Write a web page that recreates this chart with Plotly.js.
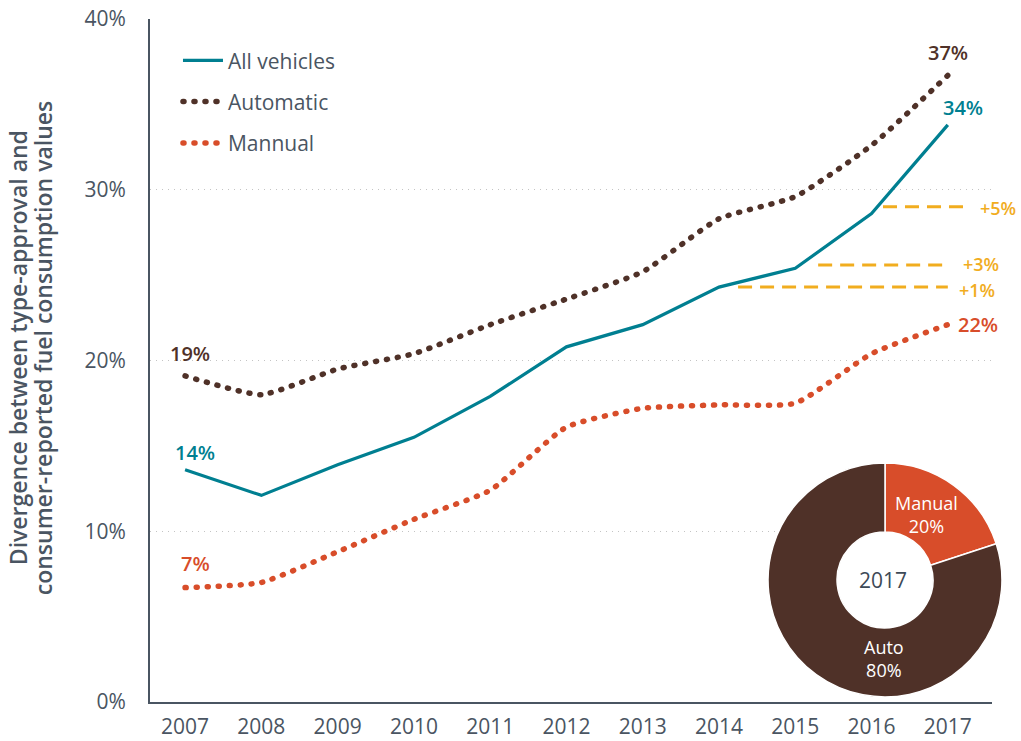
<!DOCTYPE html>
<html>
<head>
<meta charset="utf-8">
<script src="https://cdn.plot.ly/plotly-3.0.1.min.js"></script>
<style>
  html,body{margin:0;padding:0;background:#fff;}
  #chart{width:1021px;height:741px;}
</style>
</head>
<body>
<div id="chart"></div>
<script>
// data
const years = [2007,2008,2009,2010,2011,2012,2013,2014,2015,2016,2017];
const allVehicles = [13.6,12.1,13.9,15.5,17.9,20.8,22.1,24.3,25.4,28.6,33.8];
const automatic   = [19.1,18.0,19.5,20.4,22.1,23.6,25.2,28.3,29.6,32.6,36.7];
const manual      = [6.7,7.0,8.8,10.7,12.4,16.1,17.2,17.4,17.5,20.4,22.1];

// dashed gap markers
const gapStart  = [2014.25,2015.3,2016.15];
const gapEnd    = [2017.0,2017.0,2017.3];
const gapLevel  = [24.3,25.6,29.0];
const gapLabels = ['+1%','+3%','+5%'];

// 2017 share donut
const shareLabels = ['Manual','Auto'];
const shareValues = [20,80];

const yTitleLines = ['Divergence between type-approval and','consumer-reported fuel consumption values'];

const TEAL='#007f91', BROWN='#4f3128', ORANGE='#d84d2a', GOLD='#f1ad1f', TXT='#4a5562';
const FONT='"Open Sans", Lato, sans-serif';

const traces=[
  {x:years,y:allVehicles,name:'All vehicles',mode:'lines',legendgroup:'a',
   line:{color:TEAL,width:3.2},hoverinfo:'skip'},
  {x:years,y:automatic,name:'Automatic',mode:'lines',legendgroup:'b',
   line:{color:BROWN,width:5.5,dash:'1px,10px',shape:'spline',smoothing:0.5},hoverinfo:'skip'},
  {x:years,y:manual,name:'Mannual',mode:'lines',legendgroup:'c',
   line:{color:ORANGE,width:5.5,dash:'1px,10px',shape:'spline',smoothing:0.5},hoverinfo:'skip'}
];

gapLevel.forEach((lv,i)=>{
  traces.push({x:[gapStart[i],gapEnd[i]],y:[lv,lv],mode:'lines',showlegend:false,
    line:{color:GOLD,width:3,dash:'14px,8px'},hoverinfo:'skip'});
});

traces.push({type:'pie',labels:shareLabels,values:shareValues,hole:0.41,sort:false,
  direction:'clockwise',rotation:0,showlegend:false,textinfo:'none',
  marker:{colors:[ORANGE,BROWN],line:{color:'#fff',width:1.5}},
  domain:{x:[0.7178,0.9895],y:[0.0073,0.35]},hoverinfo:'skip'});

const last=years.length-1;
const pct=v=>Math.round(v)+'%';
const endLabel=(x,y,color,ax,ay)=>({x,y,xref:'x',yref:'y',text:pct(y),showarrow:true,
  arrowcolor:'rgba(0,0,0,0)',ax,ay,xanchor:'center',yanchor:'middle',
  font:{family:FONT,size:20,weight:600,color}});

const annotations=[
  endLabel(years[0],automatic[0],BROWN,5,-22),
  endLabel(years[0],allVehicles[0],TEAL,10,-17),
  endLabel(years[0],manual[0],ORANGE,10,-24),
  endLabel(years[last],automatic[last],BROWN,0,-23),
  endLabel(years[last],allVehicles[last],TEAL,15,-17),
  endLabel(years[last],manual[last],ORANGE,30,0)
];
const gapShift=[9,13,7], gapLift=[-3,1,-1];
gapLevel.forEach((lv,i)=>{
  annotations.push({x:gapEnd[i],y:lv,xref:'x',yref:'y',text:gapLabels[i],showarrow:false,
    xanchor:'left',yanchor:'middle',xshift:gapShift[i],yshift:gapLift[i],
    font:{family:FONT,size:18,weight:600,color:GOLD}});
});
// donut texts
const pieFont={family:FONT,size:18,weight:500,color:'#fff'};
annotations.push(
  {x:0.8513,y:0.1786,xref:'paper',yref:'paper',text:'2017',showarrow:false,
   xanchor:'center',yanchor:'middle',font:{family:FONT,size:21,color:'#3d4a57'}},
  {x:0.9024,y:0.2745,xref:'paper',yref:'paper',text:shareLabels[0]+'<br>'+shareValues[0]+'%',
   showarrow:false,xanchor:'center',yanchor:'middle',font:pieFont},
  {x:0.8525,y:0.063,xref:'paper',yref:'paper',text:shareLabels[1]+'<br>'+shareValues[1]+'%',
   showarrow:false,xanchor:'center',yanchor:'middle',font:pieFont}
);
// y-axis title as two tight lines
yTitleLines.forEach((t,i)=>{
  annotations.push({x:0,y:0.518,xref:'paper',yref:'paper',text:t,textangle:-90,showarrow:false,
    xanchor:'center',yanchor:'middle',xshift:i===0?-132:-107,
    font:{family:FONT,size:23,weight:600,color:TXT}});
});

const layout={
  width:1021,height:741,
  margin:{l:150,r:10,t:19,b:39},
  paper_bgcolor:'#fff',plot_bgcolor:'#fff',
  font:{family:FONT,color:TXT},
  showlegend:true,
  legend:{x:0.0325,y:0.969,xanchor:'left',yanchor:'top',traceorder:'grouped',tracegroupgap:11,
    itemwidth:40,font:{family:FONT,size:21,color:TXT},bgcolor:'rgba(0,0,0,0)'},
  xaxis:{domain:[0,0.978],range:[2006.54,2017.58],tickmode:'array',tickvals:years,
    showgrid:false,zeroline:false,showline:true,linecolor:TXT,linewidth:2,
    ticks:'',ticklabelstandoff:5,tickfont:{family:FONT,size:21,color:TXT}},
  yaxis:{range:[0,40],tickvals:[0,10,20,30,40],ticktext:['0%','10%','20%','30%','40%'],
    showgrid:true,gridcolor:'#c4c4c4',griddash:'1px,5px',gridwidth:1.3,zeroline:false,
    showline:true,linecolor:TXT,linewidth:2,ticks:'',ticklabelstandoff:18,
    tickfont:{family:FONT,size:21,color:TXT}},
  annotations
};

Plotly.newPlot('chart',traces,layout,{staticPlot:true,displayModeBar:false}).then(()=>{
  // round caps turn the short dashes into dots
  document.querySelectorAll('path.js-line').forEach(p=>{
    if((p.style.strokeDasharray||'').startsWith('1px')) p.style.strokeLinecap='round';
  });
});
</script>
</body>
</html>
